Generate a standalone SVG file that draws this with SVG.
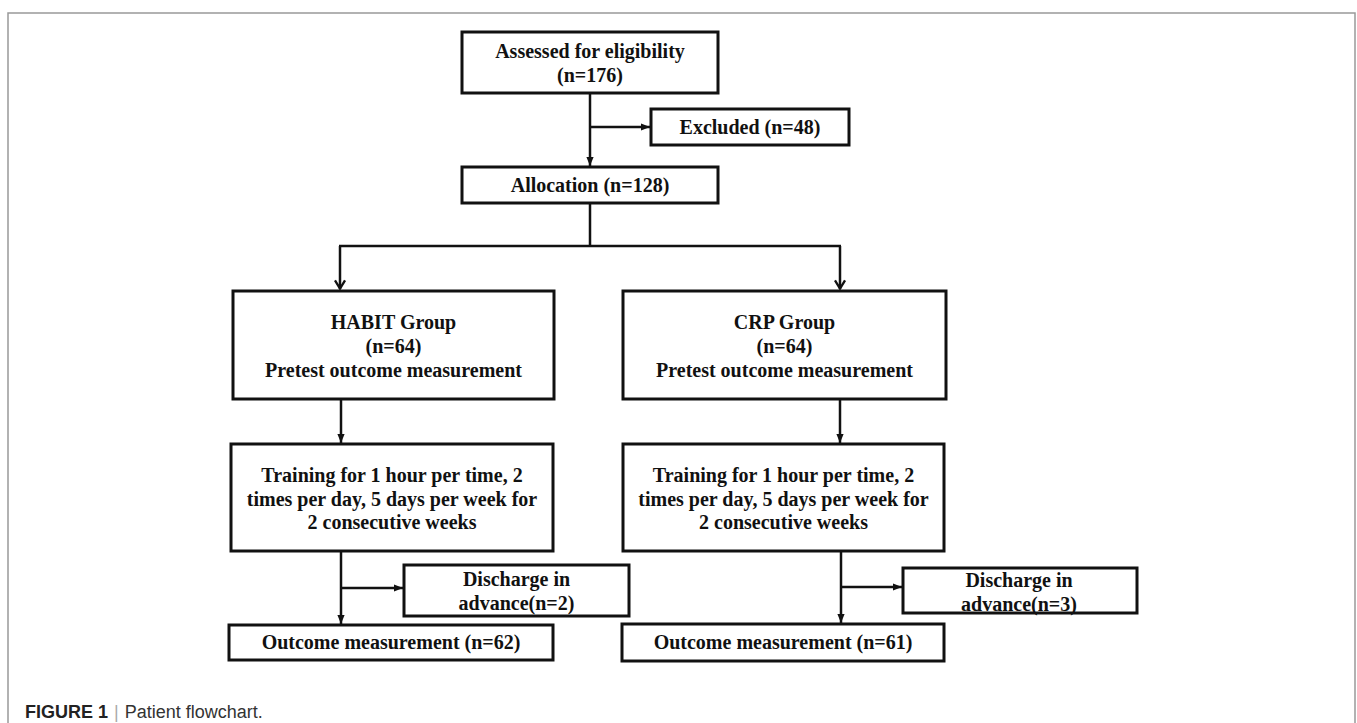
<svg xmlns="http://www.w3.org/2000/svg" width="1357" height="723" viewBox="0 0 1357 723">
  <style>
    .box { fill: #ffffff; stroke: #111111; stroke-width: 3; }
    .t { font-family: "Liberation Serif", "Times New Roman", serif; font-weight: bold; font-size: 20px; fill: #111111; text-anchor: middle; }
    .ln { fill: none; stroke: #111111; stroke-width: 2.5; }
    .frame { fill: none; stroke: #999999; stroke-width: 1.5; }
    .cap { font-family: "Liberation Sans", Arial, sans-serif; font-size: 18px; fill: #333333; }
  </style>
  <defs>
    <marker id="tri" viewBox="0 0 10 8" refX="10" refY="4" markerWidth="9" markerHeight="7.5" markerUnits="userSpaceOnUse" orient="auto">
      <path d="M0,0 L10,4 L0,8 z" fill="#111111"/>
    </marker>
    <marker id="chev" viewBox="0 0 12 14" refX="11" refY="7" markerWidth="11" markerHeight="13" markerUnits="userSpaceOnUse" orient="auto">
      <path d="M1.5,1.5 L10.5,7 L1.5,12.5" fill="none" stroke="#111111" stroke-width="2.6" stroke-linejoin="miter"/>
    </marker>
  </defs>
  <rect width="1357" height="723" fill="#ffffff"/>
  <path class="frame" d="M8,723 L8,13 L1355,13 L1355,723"/>

  <g id="connectors">
    <path class="ln" d="M590,93 L590,166" marker-end="url(#tri)"/>
    <path class="ln" d="M590,127 L650,127" marker-end="url(#tri)"/>
    <path class="ln" d="M590,203 L590,246 M339,246 L841,246"/>
    <path class="ln" d="M340,246 L340,289" marker-end="url(#chev)"/>
    <path class="ln" d="M840,246 L840,289" marker-end="url(#chev)"/>
    <path class="ln" d="M341,399 L341,443" marker-end="url(#tri)"/>
    <path class="ln" d="M840,399 L840,443" marker-end="url(#tri)"/>
    <path class="ln" d="M341,551 L341,624" marker-end="url(#tri)"/>
    <path class="ln" d="M341,588 L403,588" marker-end="url(#tri)"/>
    <path class="ln" d="M841,551 L841,623" marker-end="url(#tri)"/>
    <path class="ln" d="M841,587 L902,587" marker-end="url(#tri)"/>
  </g>

  <g id="assessed">
    <rect class="box" x="462" y="32" width="256" height="61"/>
    <text class="t" x="590" y="58">Assessed for eligibility</text>
    <text class="t" x="590" y="82">(n=176)</text>
  </g>
  <g id="excluded">
    <rect class="box" x="651" y="109" width="198" height="36"/>
    <text class="t" x="750" y="134">Excluded (n=48)</text>
  </g>
  <g id="allocation">
    <rect class="box" x="462" y="167" width="256" height="36"/>
    <text class="t" x="590" y="192">Allocation (n=128)</text>
  </g>
  <g id="habit">
    <rect class="box" x="233" y="291" width="321" height="108"/>
    <text class="t" x="393.5" y="329">HABIT Group</text>
    <text class="t" x="393.5" y="353">(n=64)</text>
    <text class="t" x="393.5" y="377">Pretest outcome measurement</text>
  </g>
  <g id="crp">
    <rect class="box" x="623" y="291" width="323" height="108"/>
    <text class="t" x="784.5" y="329">CRP Group</text>
    <text class="t" x="784.5" y="353">(n=64)</text>
    <text class="t" x="784.5" y="377">Pretest outcome measurement</text>
  </g>
  <g id="training-left">
    <rect class="box" x="231" y="444" width="322" height="107"/>
    <text class="t" x="392" y="482">Training for 1 hour per time, 2</text>
    <text class="t" x="392" y="506">times per day, 5 days per week for</text>
    <text class="t" x="392" y="529">2 consecutive weeks</text>
  </g>
  <g id="training-right">
    <rect class="box" x="623" y="444" width="321" height="107"/>
    <text class="t" x="783.5" y="482">Training for 1 hour per time, 2</text>
    <text class="t" x="783.5" y="506">times per day, 5 days per week for</text>
    <text class="t" x="783.5" y="529">2 consecutive weeks</text>
  </g>
  <g id="discharge-left">
    <rect class="box" x="404" y="565" width="225" height="51"/>
    <text class="t" x="516.5" y="586">Discharge in</text>
    <text class="t" x="516.5" y="610">advance(n=2)</text>
  </g>
  <g id="discharge-right">
    <rect class="box" x="903" y="568" width="234" height="45"/>
    <text class="t" x="1019" y="587">Discharge in</text>
    <text class="t" x="1019" y="611">advance(n=3)</text>
  </g>
  <g id="outcome-left">
    <rect class="box" x="229" y="625" width="324" height="35"/>
    <text class="t" x="391" y="649">Outcome measurement (n=62)</text>
  </g>
  <g id="outcome-right">
    <rect class="box" x="622" y="624" width="322" height="37"/>
    <text class="t" x="783" y="649">Outcome measurement (n=61)</text>
  </g>

  <g id="caption">
    <text class="cap" x="25" y="718"><tspan font-weight="bold" fill="#222222">FIGURE 1</tspan><tspan fill="#aaaaaa" dx="6">|</tspan><tspan dx="6">Patient flowchart.</tspan></text>
  </g>
</svg>
